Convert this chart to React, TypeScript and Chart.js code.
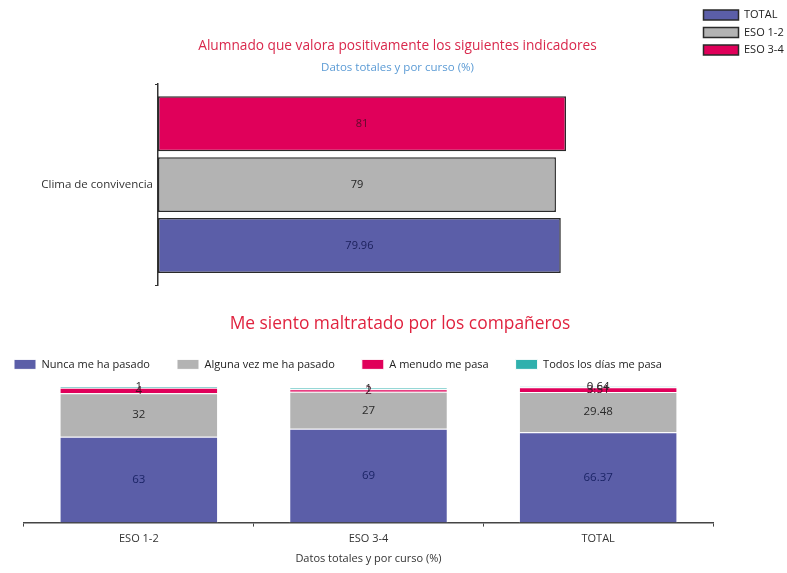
import React, { useEffect, useRef } from "react";
import { Chart, registerables } from "chart.js";

Chart.register(...registerables);

// ---- Top chart data ----
const topCategories = ["Clima de convivencia"];
const topSeriesNames = ["ESO 3-4", "ESO 1-2", "TOTAL"];
const topEso34 = [81];
const topEso12 = [79];
const topTotal = [79.96];

// ---- Bottom chart data ----
const bottomCategories = ["ESO 1-2", "ESO 3-4", "TOTAL"];
const bottomSeriesNames = [
  "Nunca me ha pasado",
  "Alguna vez me ha pasado",
  "A menudo me pasa",
  "Todos los días me pasa",
];
const nunca = [63, 69, 66.37];
const alguna = [32, 27, 29.48];
const aMenudo = [4, 2, 3.51];
const todosDias = [1, 1, 0.64];

const FONT = "'Open Sans', 'DejaVu Sans', sans-serif";
const BLUE = "#5b5ea8";
const GRAY = "#b3b3b3";
const RED = "#e0005a";
const TEAL = "#2fb0ad";

const valueLabels = {
  id: "valueLabels",
  afterDatasetsDraw(chart: any, _args: any, opts: any) {
    const ctx = chart.ctx;
    ctx.save();
    ctx.textAlign = "center";
    ctx.textBaseline = "middle";
    ctx.font = `${opts.size || 11}px ${FONT}`;
    chart.data.datasets.forEach((ds: any, di: number) => {
      const meta = chart.getDatasetMeta(di);
      if (meta.hidden) return;
      meta.data.forEach((el: any, i: number) => {
        const v = ds.data[i];
        if (v == null) return;
        const p = el.getCenterPoint();
        ctx.fillStyle = ds.labelColor || "#222";
        ctx.fillText(String(v), p.x, p.y);
      });
    });
    ctx.restore();
  },
};

function TopChart() {
  const ref = useRef<HTMLCanvasElement | null>(null);
  useEffect(() => {
    if (!ref.current) return;
    const mk = (label: string, data: number[], color: string, labelColor: string) =>
      ({
        label,
        data,
        backgroundColor: color,
        borderColor: "#2a2a2a",
        borderWidth: 1.5,
        borderSkipped: false,
        labelColor,
      } as any);
    const chart = new Chart(ref.current, {
      type: "bar",
      data: {
        labels: topCategories,
        datasets: [
          mk(topSeriesNames[0], topEso34, RED, "#5c0a2a"),
          mk(topSeriesNames[1], topEso12, GRAY, "#1e1e1e"),
          mk(topSeriesNames[2], topTotal, BLUE, "#1a1f5a"),
        ],
      },
      options: {
        indexAxis: "y",
        animation: false,
        responsive: false,
        maintainAspectRatio: false,
        layout: { padding: { left: 8, top: 3, bottom: 15, right: 0 } },
        datasets: { bar: { categoryPercentage: 0.91, barPercentage: 0.9 } },
        scales: {
          x: { display: false, min: 0, max: 107 },
          y: {
            grid: { drawOnChartArea: false, drawTicks: true, tickLength: 3, color: "#333" },
            border: { display: true, color: "#333", width: 1.5 },
            ticks: { color: "#333", padding: 2, font: { family: FONT, size: 11.5 } },
            afterFit: (s: any) => {
              s.width = 150;
            },
          },
        },
        plugins: {
          legend: {
            position: "right",
            align: "start",
            reverse: true,
            maxWidth: 90,
            labels: {
              boxWidth: 35,
              boxHeight: 10,
              padding: 6.5,
              color: "#222",
              font: { family: FONT, size: 11 },
            },
          },
          title: {
            display: true,
            text: "Alumnado que valora positivamente los siguientes indicadores",
            color: "#d9284c",
            font: { family: FONT, size: 13.7, weight: "normal" },
            padding: { top: 35, bottom: 4 },
          },
          subtitle: {
            display: true,
            text: "Datos totales y por curso (%)",
            color: "#5b9bd5",
            font: { family: FONT, size: 11.5, weight: "normal" },
            padding: { top: 2, bottom: 10 },
          },
          tooltip: { enabled: false },
          valueLabels: { size: 11 },
        } as any,
      },
      plugins: [valueLabels],
    });
    return () => chart.destroy();
  }, []);
  return <canvas ref={ref} width={787} height={300} style={{ display: "block" }} />;
}

function BottomChart() {
  const ref = useRef<HTMLCanvasElement | null>(null);
  useEffect(() => {
    if (!ref.current) return;
    const mk = (label: string, data: number[], color: string, labelColor: string) =>
      ({
        label,
        data,
        backgroundColor: color,
        borderColor: "#ffffff",
        borderWidth: 1,
        labelColor,
      } as any);
    const chart = new Chart(ref.current, {
      type: "bar",
      data: {
        labels: bottomCategories,
        datasets: [
          mk(bottomSeriesNames[0], nunca, BLUE, "#1b2466"),
          mk(bottomSeriesNames[1], alguna, GRAY, "#2a2a2a"),
          mk(bottomSeriesNames[2], aMenudo, RED, "#4a0a22"),
          mk(bottomSeriesNames[3], todosDias, TEAL, "#2a2a2a"),
        ],
      },
      options: {
        animation: false,
        responsive: false,
        maintainAspectRatio: false,
        layout: { padding: { left: -13, right: -26, top: 0, bottom: 0 } },
        datasets: { bar: { categoryPercentage: 0.69, barPercentage: 1 } },
        scales: {
          x: {
            stacked: true,
            grid: { drawOnChartArea: false, drawTicks: true, tickLength: 4, color: "#444" },
            border: { display: true, color: "#444", width: 1.5 },
            ticks: { color: "#333", padding: 6, font: { family: FONT, size: 11 } },
            title: {
              display: true,
              text: "Datos totales y por curso (%)",
              color: "#333",
              font: { family: FONT, size: 11 },
              padding: { top: 0, bottom: 8 },
            },
          },
          y: {
            stacked: true,
            min: 0,
            max: 104.8,
            display: true,
            grid: { display: false },
            border: { display: false },
            ticks: { display: false },
            afterFit: (s: any) => {
              s.width = 37;
            },
          },
          yRight: {
            position: "right",
            display: true,
            grid: { display: false },
            border: { display: false },
            ticks: { display: false },
            afterFit: (s: any) => {
              s.width = 100;
            },
          },
        },
        plugins: {
          legend: {
            position: "top",
            align: "start",
            labels: {
              boxWidth: 22,
              boxHeight: 10,
              padding: 27,
              color: "#222",
              font: { family: FONT, size: 11 },
            },
          },
          title: {
            display: true,
            text: "Me siento maltratado por los compañeros",
            color: "#e0233f",
            font: { family: FONT, size: 17.4, weight: "normal" },
            padding: { top: 14, bottom: -3 },
          },
          tooltip: { enabled: false },
          valueLabels: { size: 11.5 },
        } as any,
      },
      plugins: [valueLabels],
    });
    return () => chart.destroy();
  }, []);
  return <canvas ref={ref} width={787} height={273} style={{ display: "block" }} />;
}

export default function App() {
  return (
    <div
      style={{
        position: "absolute",
        left: 0,
        top: 0,
        width: 787,
        height: 573,
        background: "#ffffff",
      }}
    >
      <TopChart />
      <BottomChart />
    </div>
  );
}
